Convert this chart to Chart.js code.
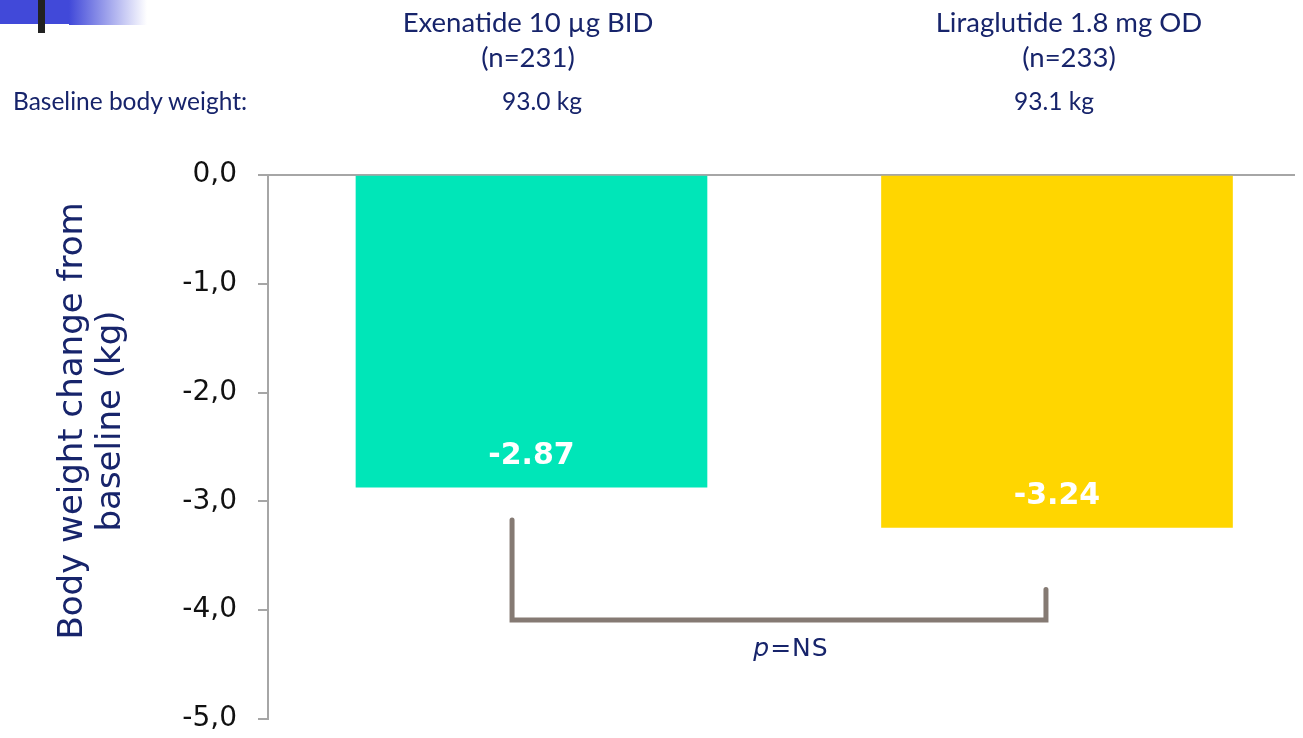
<!DOCTYPE html>
<html>
<head>
<meta charset="utf-8">
<script src="https://cdn.jsdelivr.net/npm/chart.js@4.4.1/dist/chart.umd.min.js"></script>
<style>
  html, body { margin: 0; padding: 0; background: #fff; }
  #wrap { position: relative; width: 1303px; height: 738px; overflow: hidden; }
  canvas { position: absolute; left: 0; top: 0; }
  .t { position: absolute; color: #17246b; white-space: nowrap; font-family: Lato, "Open Sans", sans-serif; }
  .hdr { font-size: 27.5px; text-align: center; line-height: 35px; transform: translateX(-50%); }
  .small { font-size: 24.5px; line-height: 30px; }
  .c { transform: translateX(-50%); }
  #deco1 { position: absolute; left: 0; top: 0; width: 70px; height: 24px; background: #4149d9; }
  #deco2 { position: absolute; left: 69px; top: 0; width: 78px; height: 25px; background: linear-gradient(to right, #4149d9, #ffffff); }
  #deco3 { position: absolute; left: 38px; top: 0; width: 7px; height: 33px; background: #222; }
  #pns { position: absolute; left: 791px; top: 633px; transform: translateX(-50%); font-family: "DejaVu Sans", sans-serif; font-size: 25px; letter-spacing: 1px; color: #17246b; }
</style>
</head>
<body>
<div id="wrap">
  <div id="deco1"></div><div id="deco2"></div><div id="deco3"></div>
  <canvas id="c" width="1303" height="738"></canvas>
  <div class="t hdr" id="h1" style="left:528px; top:4px;"></div>
  <div class="t hdr" id="h2" style="left:1069px; top:4px;"></div>
  <div class="t small" id="bl" style="left:13px; top:86px;"></div>
  <div class="t small c" id="b1" style="left:542px; top:86px;"></div>
  <div class="t small c" id="b2" style="left:1054px; top:86px;"></div>
  <div id="pns"><i>p</i>=NS</div>
</div>
<script>
// ---- data ----
const categories = ["Exenatide 10 µg BID", "Liraglutide 1.8 mg OD"];
const groupSizes = ["(n=231)", "(n=233)"];
const baselineLabel = "Baseline body weight:";
const baselineWeights = ["93.0 kg", "93.1 kg"];
const weightChange = [-2.87, -3.24];
const barPositions = [1, 2];
const barColors = ["#00e6b8", "#ffd600"];
const yTicks = [0, -1, -2, -3, -4, -5];
const yTitle = ["Body weight change from", "baseline (kg)"];
const bracketX = [0.963, 0.963, 1.979, 1.979];
const bracketY = [-3.17, -4.09, -4.09, -3.81];

document.getElementById('h1').innerHTML = categories[0] + '<br>' + groupSizes[0];
document.getElementById('h2').innerHTML = categories[1] + '<br>' + groupSizes[1];
document.getElementById('bl').textContent = baselineLabel;
document.getElementById('b1').textContent = baselineWeights[0];
document.getElementById('b2').textContent = baselineWeights[1];

const valueLabels = {
  id: 'valueLabels',
  afterDatasetsDraw(chart) {
    const ctx = chart.ctx;
    const meta = chart.getDatasetMeta(0);
    ctx.save();
    ctx.font = 'bold 30px "DejaVu Sans", sans-serif';
    ctx.fillStyle = '#ffffff';
    ctx.textAlign = 'center';
    ctx.textBaseline = 'middle';
    meta.data.forEach((bar, i) => {
      ctx.fillText(weightChange[i].toFixed(2), bar.x, bar.y - 31);
    });
    ctx.restore();
  }
};

const yTitlePlugin = {
  id: 'yTitlePlugin',
  afterDraw(chart) {
    const ctx = chart.ctx;
    const mid = (chart.chartArea.top + chart.chartArea.bottom) / 2 - 26;
    const xs = [82, 120];
    ctx.save();
    ctx.font = '34px "DejaVu Sans", sans-serif';
    ctx.fillStyle = '#17246b';
    ctx.textAlign = 'center';
    ctx.textBaseline = 'alphabetic';
    yTitle.forEach((line, i) => {
      ctx.save();
      ctx.translate(xs[i], mid);
      ctx.rotate(-Math.PI / 2);
      ctx.fillText(line, 0, 0);
      ctx.restore();
    });
    ctx.restore();
  }
};

new Chart(document.getElementById('c'), {
  type: 'bar',
  data: {
    datasets: [{
      type: 'bar',
      data: barPositions.map((x, i) => ({ x: x, y: weightChange[i] })),
      backgroundColor: barColors,
      barThickness: 351,
      borderWidth: 0
    }, {
      type: 'line',
      data: bracketX.map((x, i) => ({ x: x, y: bracketY[i] })),
      borderColor: '#857a73',
      borderWidth: 5,
      pointRadius: 0,
      fill: false,
      tension: 0,
      borderJoinStyle: 'miter',
      borderCapStyle: 'round'
    }]
  },
  options: {
    responsive: false,
    animation: false,
    events: [],
    layout: { padding: { top: 175, bottom: 19, right: 8, left: 0 } },
    plugins: { legend: { display: false }, tooltip: { enabled: false } },
    scales: {
      x: {
        type: 'linear',
        display: false,
        min: 0.4986,
        max: 2.4529,
        offset: false
      },
      y: {
        min: -5,
        max: 0,
        afterBuildTicks(scale) { scale.ticks = yTicks.map(v => ({ value: v })); },
        afterFit(scale) { scale.width = 268; scale.paddingTop = 0; scale.paddingBottom = 0; },
        ticks: {
          callback: v => v.toFixed(1).replace('.', ','),
          font: { family: '"DejaVu Sans", sans-serif', size: 28 },
          color: '#111111',
          padding: 21
        },
        grid: {
          color: c => (c.tick && c.tick.value === 0) ? '#a6a6a6' : 'rgba(0,0,0,0)',
          tickColor: '#a6a6a6',
          tickLength: 10,
          lineWidth: 2
        },
        border: { color: '#a6a6a6', width: 2 },
        title: { display: false }
      }
    }
  },
  plugins: [valueLabels, yTitlePlugin]
});
</script>
</body>
</html>
